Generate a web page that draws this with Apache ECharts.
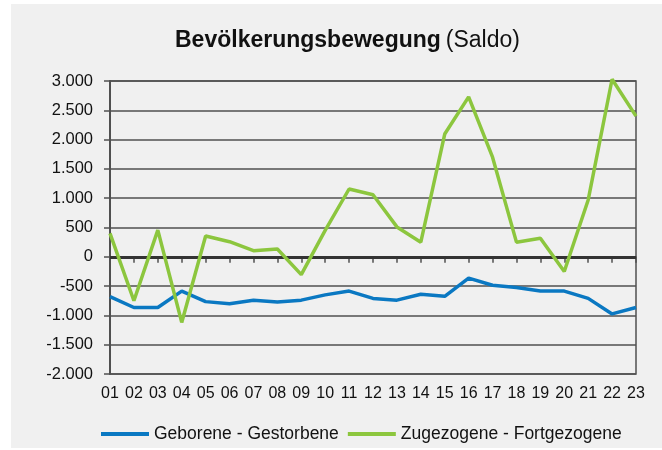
<!DOCTYPE html>
<html>
<head>
<meta charset="utf-8">
<script src="https://cdn.jsdelivr.net/npm/echarts@6/dist/echarts.min.js"></script>
<style>
    html, body { margin: 0; padding: 0; background: #ffffff; }
    #chart { position: absolute; left: 11px; top: 4px; width: 651px; height: 444px; background: #f0f0f0; }
</style>
</head>
<body>
<div id="chart"></div>
<script>
// Bevölkerungsbewegung (Saldo), Jahre 01..23
var categories = ['01','02','03','04','05','06','07','08','09','10','11','12','13','14','15','16','17','18','19','20','21','22','23'];
var geborenGestorben = [-680, -865, -865, -585, -765, -800, -740, -770, -740, -650, -585, -710, -740, -640, -675, -365, -485, -525, -585, -585, -710, -975, -865];
var zugezogenFortgezogen = [400, -750, 455, -1120, 355, 258, 105, 133, -305, 450, 1157, 1060, 510, 250, 2095, 2730, 1700, 250, 316, -250, 970, 3030, 2400];
var yMin = -2000, yMax = 3000, yStep = 500;

function fmt(v) {
    // Tausenderpunkt wie im Original
    var s = Math.abs(v).toString().replace(/\B(?=(\d{3})+(?!\d))/g, '.');
    return (v < 0 ? '-' : '') + s;
}

var myChart = echarts.init(document.getElementById('chart'));
var txt = '#111';
var lineCol = '#505050';

var option = {
    animation: false,
    textStyle: { fontFamily: 'Liberation Sans, Arial, sans-serif' },
    title: {
        text: '{b|Bevölkerungsbewegung} {n|(Saldo)}',
        left: 164,
        top: 25,
        padding: 0,
        textStyle: {
            rich: {
                b: { fontSize: 23, fontWeight: 'bold', color: txt, fontFamily: 'Liberation Sans' },
                n: { fontSize: 23, fontWeight: 'normal', color: txt, fontFamily: 'Liberation Sans' }
            }
        }
    },
    grid: {
        left: 99,
        right: 26,
        top: 77,
        bottom: 74,
        show: true,
        borderColor: lineCol,
        borderWidth: 1.5,
        backgroundColor: 'transparent'
    },
    legend: {
        left: 90,
        top: 421,
        padding: 0,
        icon: 'rect',
        itemWidth: 48,
        itemHeight: 4,
        itemGap: 9,
        textStyle: { fontSize: 17.5, color: txt },
        data: ['Geborene - Gestorbene', 'Zugezogene - Fortgezogene']
    },
    xAxis: {
        type: 'category',
        data: categories,
        boundaryGap: false,
        axisLine: { show: true, lineStyle: { color: lineCol, width: 1.5 } },
        axisTick: { show: true, length: 6, lineStyle: { color: lineCol, width: 1.5 } },
        axisLabel: { color: txt, fontSize: 16, margin: 12, interval: 0 },
        splitLine: { show: false }
    },
    yAxis: {
        type: 'value',
        min: yMin,
        max: yMax,
        interval: yStep,
        axisLine: { show: true, lineStyle: { color: lineCol, width: 2 } },
        axisTick: { show: true, length: 6, lineStyle: { color: lineCol, width: 1.5 } },
        axisLabel: { color: txt, fontSize: 16.5, margin: 17, formatter: fmt },
        splitLine: { show: true, lineStyle: { color: lineCol, width: 1.5 } }
    },
    series: [
        {
            name: 'Geborene - Gestorbene',
            type: 'line',
            data: geborenGestorben,
            symbol: 'none',
            lineStyle: { color: '#0a78c2', width: 3.5 },
            itemStyle: { color: '#0a78c2' },
            markLine: {
                silent: true,
                symbol: 'none',
                label: { show: false },
                lineStyle: { color: '#333333', width: 3, type: 'solid' },
                data: [{ yAxis: 0 }],
                z: 1
            }
        },
        {
            name: 'Zugezogene - Fortgezogene',
            type: 'line',
            data: zugezogenFortgezogen,
            symbol: 'none',
            clip: false,
            lineStyle: { color: '#8cc63e', width: 3.5 },
            itemStyle: { color: '#8cc63e' }
        }
    ]
};
myChart.setOption(option);
window.addEventListener('resize', function () { myChart.resize(); });
</script>
</body>
</html>
